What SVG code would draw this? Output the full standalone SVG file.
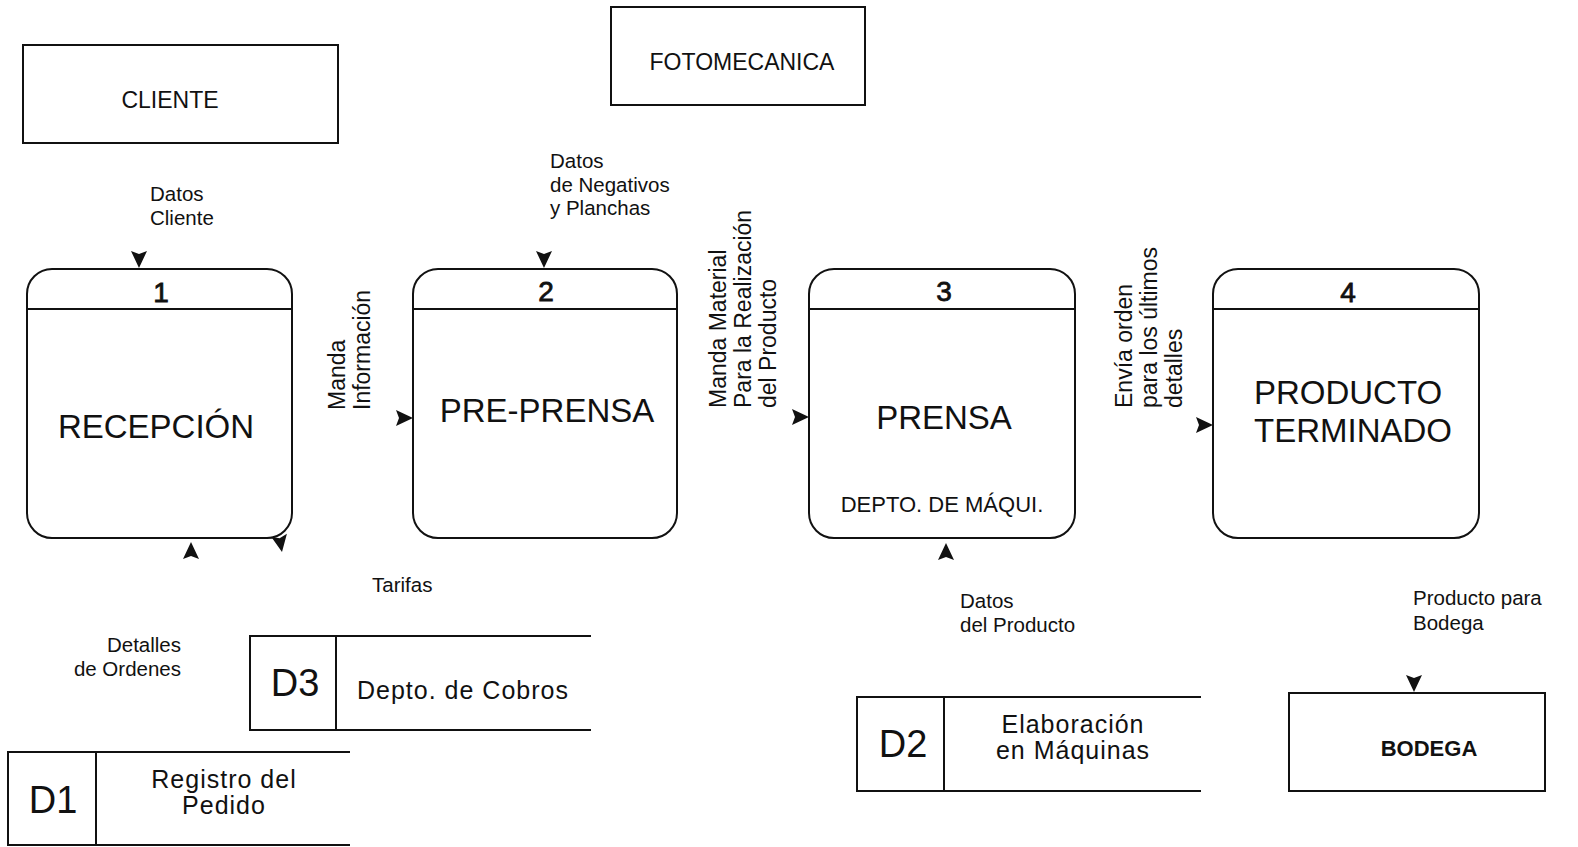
<svg xmlns="http://www.w3.org/2000/svg" xmlns:xlink="http://www.w3.org/1999/xlink" width="1578" height="847" viewBox="0 0 1578 847">
<style>
.box{fill:#fff;stroke:#111;stroke-width:2}
.ln{stroke:#111;stroke-width:2;fill:none}
.t{font-family:"Liberation Sans",Arial,sans-serif;fill:#111}
.ent{font-size:23px;text-anchor:middle}
.num{font-size:28px;text-anchor:middle;stroke:#111;stroke-width:0.8}
.big{font-size:33px;text-anchor:middle}
.lbl{font-size:20.5px}
.rot{font-size:23px}
.dsid{font-size:38px;text-anchor:middle}
.dsn{font-size:25px;letter-spacing:1px}
.ah{fill:#111}
</style>
<defs>
<path id="ah" d="M0,0 L-17,-8 L-14,0 L-17,8 Z"/>
</defs>
<rect width="1578" height="847" fill="#fff"/>

<g id="cliente">
<rect class="box" x="23" y="45" width="315" height="98"/>
<text class="t ent" x="170" y="108">CLIENTE</text>
</g>
<g id="fotomecanica">
<rect class="box" x="611" y="7" width="254" height="98"/>
<text class="t ent" x="742" y="70">FOTOMECANICA</text>
</g>

<g id="p1">
<rect class="box" x="27" y="269" width="265" height="269" rx="25"/>
<line class="ln" x1="27" y1="309" x2="292" y2="309"/>
<text class="t num" x="161" y="302">1</text>
<text class="t big" x="156" y="438">RECEPCIÓN</text>
</g>
<g id="p2">
<rect class="box" x="413" y="269" width="264" height="269" rx="25"/>
<line class="ln" x1="413" y1="309" x2="677" y2="309"/>
<text class="t num" x="546" y="301">2</text>
<text class="t big" x="547" y="422">PRE-PRENSA</text>
</g>
<g id="p3">
<rect class="box" x="809" y="269" width="266" height="269" rx="25"/>
<line class="ln" x1="809" y1="309" x2="1075" y2="309"/>
<text class="t num" x="944" y="301">3</text>
<text class="t big" x="944" y="429">PRENSA</text>
<text class="t" x="942" y="512" font-size="22" text-anchor="middle">DEPTO. DE MÁQUI.</text>
</g>
<g id="p4">
<rect class="box" x="1213" y="269" width="266" height="269" rx="25"/>
<line class="ln" x1="1213" y1="309" x2="1479" y2="309"/>
<text class="t num" x="1348" y="302">4</text>
<text class="t big" x="1348" y="404">PRODUCTO</text>
<text class="t big" x="1353" y="442">TERMINADO</text>
</g>

<g id="d3">
<path class="ln" d="M591,636 H250 V730 H591 M336,636 V730"/>
<text class="t dsid" x="295" y="696">D3</text>
<text class="t dsn" x="357" y="699">Depto. de Cobros</text>
</g>
<g id="d1">
<path class="ln" d="M350,752 H8 V845 H350 M96,752 V845"/>
<text class="t dsid" x="53" y="813">D1</text>
<text class="t dsn" x="224" y="788" text-anchor="middle">Registro del</text>
<text class="t dsn" x="224" y="814" text-anchor="middle">Pedido</text>
</g>
<g id="d2">
<path class="ln" d="M1201,697 H857 V791 H1201 M944,697 V791"/>
<text class="t dsid" x="903" y="757">D2</text>
<text class="t dsn" x="1073" y="733" text-anchor="middle">Elaboración</text>
<text class="t dsn" x="1073" y="759" text-anchor="middle">en Máquinas</text>
</g>
<g id="bodega">
<rect class="box" x="1289" y="693" width="256" height="98"/>
<text class="t" x="1429" y="756" font-size="22" font-weight="bold" text-anchor="middle">BODEGA</text>
</g>

<g id="connectors">
<use class="ah" xlink:href="#ah" transform="translate(139,268) rotate(90)"/>
<use class="ah" xlink:href="#ah" transform="translate(544,268) rotate(90)"/>
<use class="ah" xlink:href="#ah" transform="translate(413,418)"/>
<use class="ah" xlink:href="#ah" transform="translate(809,417)"/>
<use class="ah" xlink:href="#ah" transform="translate(1213,425)"/>
<use class="ah" xlink:href="#ah" transform="translate(191,542) rotate(-90)"/>
<use class="ah" xlink:href="#ah" transform="translate(282,552) rotate(80)"/>
<use class="ah" xlink:href="#ah" transform="translate(946,543) rotate(-90)"/>
<use class="ah" xlink:href="#ah" transform="translate(1414,692) rotate(90)"/>

<text class="t lbl" x="150" y="201">Datos</text>
<text class="t lbl" x="150" y="225">Cliente</text>
<text class="t lbl" x="550" y="168">Datos</text>
<text class="t lbl" x="550" y="192">de Negativos</text>
<text class="t lbl" x="550" y="215">y Planchas</text>
<text class="t rot" transform="translate(345,410) rotate(-90)">Manda<tspan x="0" dy="25">Información</tspan></text>
<text class="t rot" transform="translate(726,408) rotate(-90)">Manda Material<tspan x="0" dy="25">Para la Realización</tspan><tspan x="0" dy="25">del Producto</tspan></text>
<text class="t rot" transform="translate(1132,408) rotate(-90)">Envía orden<tspan x="0" dy="25">para los últimos</tspan><tspan x="0" dy="25">detalles</tspan></text>
<text class="t lbl" x="372" y="592">Tarifas</text>
<text class="t lbl" x="181" y="652" text-anchor="end">Detalles</text>
<text class="t lbl" x="181" y="676" text-anchor="end">de Ordenes</text>
<text class="t lbl" x="960" y="608">Datos</text>
<text class="t lbl" x="960" y="632">del Producto</text>
<text class="t lbl" x="1413" y="605">Producto para</text>
<text class="t lbl" x="1413" y="630">Bodega</text>
</g>
</svg>
